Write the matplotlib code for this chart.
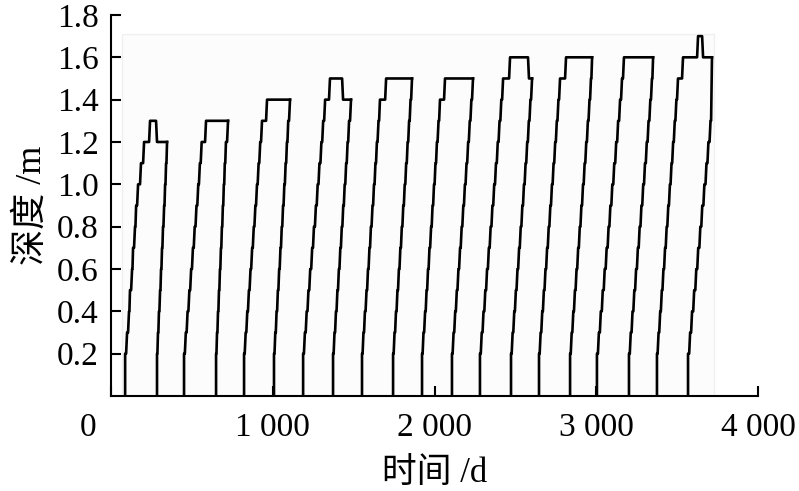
import matplotlib
matplotlib.use("Agg")
import matplotlib.pyplot as plt
import matplotlib.transforms as mtransforms
from matplotlib.patches import Rectangle

plt.rcParams['font.family'] = ['Liberation Serif', 'Noto Sans CJK SC']

# freezing front (day, depth m) per year; last point = end of the max-depth plateau
freeze_days = [
    [87, 99, 111, 117, 130, 136, 148, 155, 167, 185, 204, 241, 284, 346],
    [451, 462, 473, 484, 495, 506, 517, 528, 539, 549, 560, 587, 723],
    [822, 832, 842, 852, 862, 872, 882, 892, 902, 912, 922, 933, 964, 1106],
    [1187, 1198, 1209, 1220, 1231, 1243, 1254, 1266, 1277, 1288, 1300, 1311, 1323, 1353, 1434, 1483],
    [1551, 1560, 1569, 1579, 1588, 1597, 1606, 1616, 1625, 1634, 1643, 1653, 1662, 1700, 1860],
    [1922, 1931, 1941, 1950, 1959, 1968, 1978, 1987, 1996, 2005, 2014, 2024, 2033, 2064, 2237],
    [2280, 2291, 2302, 2313, 2324, 2335, 2346, 2357, 2368, 2379, 2390, 2401, 2412, 2423, 2466, 2583, 2602],
    [2645, 2655, 2665, 2675, 2685, 2695, 2705, 2715, 2725, 2735, 2745, 2755, 2765, 2775, 2812, 2973],
    [3003, 3015, 3027, 3039, 3051, 3063, 3075, 3086, 3098, 3110, 3122, 3134, 3146, 3158, 3170, 3350],
    [3374, 3384, 3394, 3404, 3414, 3424, 3434, 3444, 3454, 3464, 3474, 3484, 3494, 3504, 3535, 3628, 3659, 3714],
]
freeze_depth = [
    [0.2, 0.3, 0.4, 0.5, 0.6, 0.7, 0.8, 0.9, 1.0, 1.1, 1.2, 1.3, 1.2, 1.2],
    [0.2, 0.3, 0.4, 0.5, 0.6, 0.7, 0.8, 0.9, 1.0, 1.1, 1.2, 1.3, 1.3],
    [0.2, 0.3, 0.4, 0.5, 0.6, 0.7, 0.8, 0.9, 1.0, 1.1, 1.2, 1.3, 1.4, 1.4],
    [0.2, 0.3, 0.4, 0.5, 0.6, 0.7, 0.8, 0.9, 1.0, 1.1, 1.2, 1.3, 1.4, 1.5, 1.4, 1.4],
    [0.2, 0.3, 0.4, 0.5, 0.6, 0.7, 0.8, 0.9, 1.0, 1.1, 1.2, 1.3, 1.4, 1.5, 1.5],
    [0.2, 0.3, 0.4, 0.5, 0.6, 0.7, 0.8, 0.9, 1.0, 1.1, 1.2, 1.3, 1.4, 1.5, 1.5],
    [0.2, 0.3, 0.4, 0.5, 0.6, 0.7, 0.8, 0.9, 1.0, 1.1, 1.2, 1.3, 1.4, 1.5, 1.6, 1.5, 1.5],
    [0.2, 0.3, 0.4, 0.5, 0.6, 0.7, 0.8, 0.9, 1.0, 1.1, 1.2, 1.3, 1.4, 1.5, 1.6, 1.6],
    [0.2, 0.3, 0.4, 0.5, 0.6, 0.7, 0.8, 0.9, 1.0, 1.1, 1.2, 1.3, 1.4, 1.5, 1.6, 1.6],
    [0.2, 0.3, 0.4, 0.5, 0.6, 0.7, 0.8, 0.9, 1.0, 1.1, 1.2, 1.3, 1.4, 1.5, 1.6, 1.7, 1.6, 1.6],
]

# thawing front (day, depth m) per year; last point joins the plateau end
thaw_days = [
    [284, 290, 296, 303, 309, 315, 321, 328, 334, 340, 346],
    [649, 655, 661, 667, 673, 679, 685, 691, 697, 703, 710, 723],
    [1007, 1015, 1023, 1031, 1039, 1047, 1055, 1063, 1071, 1079, 1087, 1095, 1106],
    [1372, 1381, 1390, 1399, 1408, 1417, 1426, 1435, 1444, 1453, 1462, 1471, 1483],
    [1743, 1752, 1761, 1770, 1779, 1788, 1797, 1806, 1815, 1824, 1833, 1842, 1851, 1860],
    [2107, 2117, 2127, 2137, 2147, 2157, 2167, 2177, 2187, 2197, 2207, 2217, 2227, 2237],
    [2472, 2482, 2492, 2502, 2512, 2522, 2532, 2542, 2552, 2562, 2572, 2582, 2592, 2602],
    [2837, 2847, 2857, 2867, 2877, 2887, 2897, 2907, 2917, 2927, 2937, 2947, 2957, 2966, 2973],
    [3201, 3212, 3223, 3234, 3245, 3256, 3267, 3278, 3289, 3300, 3311, 3322, 3333, 3343, 3350],
    [3566, 3579, 3591, 3604, 3617, 3629, 3642, 3654, 3667, 3680, 3692, 3705, 3714],
]
thaw_depth = [
    [0.2, 0.3, 0.4, 0.5, 0.6, 0.7, 0.8, 0.9, 1.0, 1.1, 1.2],
    [0.2, 0.3, 0.4, 0.5, 0.6, 0.7, 0.8, 0.9, 1.0, 1.1, 1.2, 1.3],
    [0.2, 0.3, 0.4, 0.5, 0.6, 0.7, 0.8, 0.9, 1.0, 1.1, 1.2, 1.3, 1.4],
    [0.2, 0.3, 0.4, 0.5, 0.6, 0.7, 0.8, 0.9, 1.0, 1.1, 1.2, 1.3, 1.4],
    [0.2, 0.3, 0.4, 0.5, 0.6, 0.7, 0.8, 0.9, 1.0, 1.1, 1.2, 1.3, 1.4, 1.5],
    [0.2, 0.3, 0.4, 0.5, 0.6, 0.7, 0.8, 0.9, 1.0, 1.1, 1.2, 1.3, 1.4, 1.5],
    [0.2, 0.3, 0.4, 0.5, 0.6, 0.7, 0.8, 0.9, 1.0, 1.1, 1.2, 1.3, 1.4, 1.5],
    [0.2, 0.3, 0.4, 0.5, 0.6, 0.7, 0.8, 0.9, 1.0, 1.1, 1.2, 1.3, 1.4, 1.5, 1.6],
    [0.2, 0.3, 0.4, 0.5, 0.6, 0.7, 0.8, 0.9, 1.0, 1.1, 1.2, 1.3, 1.4, 1.5, 1.6],
    [0.2, 0.3, 0.4, 0.5, 0.6, 0.7, 0.8, 0.9, 1.0, 1.1, 1.2, 1.3, 1.6],
]

x_ticks = [0, 1000, 2000, 3000, 4000]
x_labels = ["0", "1 000", "2 000", "3 000", "4 000"]
y_ticks = [0.2, 0.4, 0.6, 0.8, 1.0, 1.2, 1.4, 1.6, 1.8]
y_labels = ["0.2", "0.4", "0.6", "0.8", "1.0", "1.2", "1.4", "1.6", "1.8"]


def front_path(days, depth):
    # small flat jog at each level, then a steep climb to the next one
    xs, ys = [days[0], days[0]], [0, depth[0]]
    for i in range(1, len(days)):
        dt = days[i] - days[i - 1]
        climb = min(0.6 * dt, 6)
        xs += [days[i] - climb, days[i]]
        ys += [depth[i - 1], depth[i]]
    return xs, ys


fig = plt.figure(figsize=(7.99, 4.91), dpi=100)
ax = fig.add_axes([0.139, 0.1935, 0.81, 0.776])

# faint plot-area frame seen in the scanned original
ax.add_patch(Rectangle((0.017, 0), 0.915, 0.95, transform=ax.transAxes,
                       facecolor="#fcfcfc", edgecolor="#f0f0f0", lw=1, zorder=0))

for fd, fz, td, tz in zip(freeze_days, freeze_depth, thaw_days, thaw_depth):
    ax.plot(*front_path(fd, fz), color="black", lw=1.9)
    ax.plot(*front_path(td, tz), color="black", lw=1.9)

ax.set_xlim(0, 4000)
ax.set_ylim(0, 1.8)
ax.spines["top"].set_visible(False)
ax.spines["right"].set_visible(False)
for s in ("left", "bottom"):
    ax.spines[s].set_linewidth(1.5)

ax.set_xticks(x_ticks)
ax.set_xticklabels(x_labels)
ax.set_yticks(y_ticks)
ax.set_yticklabels(y_labels)
ax.tick_params(axis="both", direction="in", length=7, width=1.5, labelsize=24)
ax.tick_params(axis="x", pad=12)
ax.tick_params(axis="y", pad=9)

# the "0" label sits left of the axis origin
shift = mtransforms.ScaledTranslation(-23 / 100, 0, fig.dpi_scale_trans)
lab0 = ax.xaxis.get_major_ticks()[0].label1
lab0.set_transform(lab0.get_transform() + shift)

ax.set_xlabel("时间 /d", fontsize=25, labelpad=10)
ax.set_ylabel("深度 /m", fontsize=26, labelpad=6)

fig.savefig("out.png", dpi=100)
